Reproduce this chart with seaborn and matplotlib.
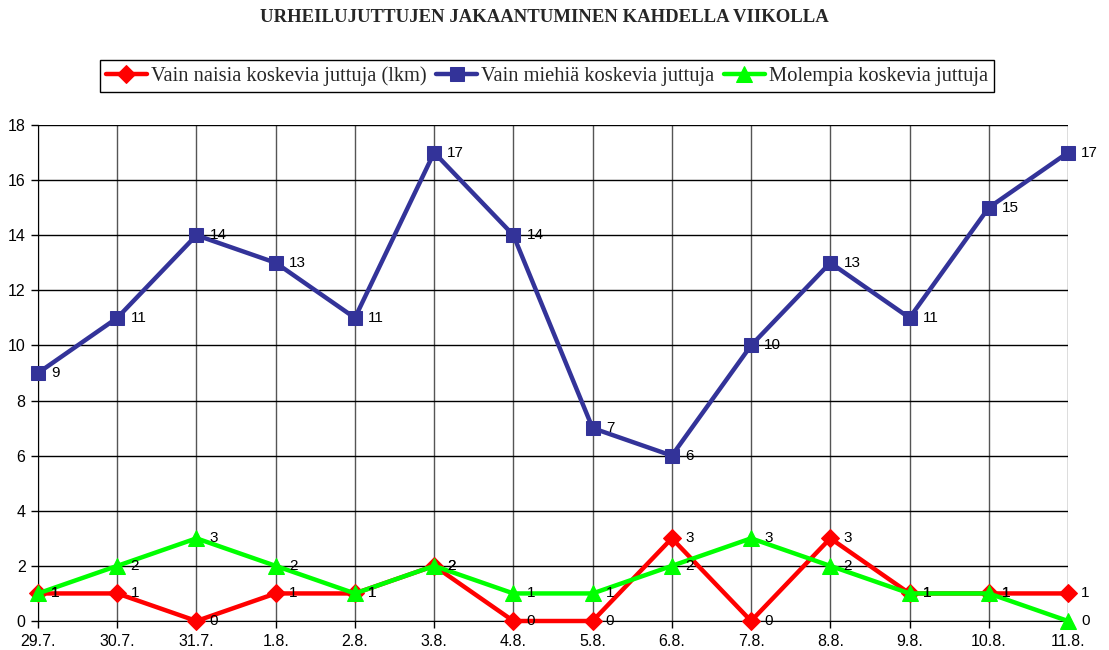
import matplotlib
matplotlib.use("Agg")
import matplotlib.pyplot as plt
import seaborn as sns
import pandas as pd
import numpy as np

dates = ["29.7.", "30.7.", "31.7.", "1.8.", "2.8.", "3.8.", "4.8.", "5.8.",
         "6.8.", "7.8.", "8.8.", "9.8.", "10.8.", "11.8."]
naiset = [1, 1, 0, 1, 1, 2, 0, 0, 3, 0, 3, 1, 1, 1]
miehet = [9, 11, 14, 13, 11, 17, 14, 7, 6, 10, 13, 11, 15, 17]
molemmat = [1, 2, 3, 2, 1, 2, 1, 1, 2, 3, 2, 1, 1, 0]

series_names = ["Vain naisia koskevia juttuja (lkm)",
                "Vain miehiä koskevia juttuja",
                "Molempia koskevia juttuja"]
series_vals = [naiset, miehet, molemmat]
colors = ["#FF0000", "#333399", "#00FF00"]
markers = ["D", "s", "^"]
msizes = [9, 9.5, 11]

sns.set_style("white")
plt.rcParams["font.family"] = ["Liberation Sans", "DejaVu Sans"]

fig = plt.figure(figsize=(11.09, 6.5), dpi=100)
ax = fig.add_axes([38/1109, 1-621/650, (1068-38)/1109, (621-125)/650])

x = np.arange(len(dates))
for name, vals, c, m, ms in zip(series_names, series_vals, colors, markers, msizes):
    df = pd.DataFrame({"x": x, "y": vals})
    sns.lineplot(data=df, x="x", y="y", ax=ax, color=c, lw=3.2, marker=m,
                 markersize=ms, markeredgecolor=c, label=name, zorder=3,
                 clip_on=False)
    for xi, yi in zip(x, vals):
        ax.annotate(str(yi), (xi, yi), xytext=(9.5, 0), textcoords="offset points",
                    ha="left", va="center", fontsize=11, color="black", zorder=5,
                    annotation_clip=False)

ax.set_xlim(0, len(dates) - 1)
ax.set_ylim(0, 18)
ax.set_yticks(range(0, 19, 2))
ax.set_xticks(x)
ax.set_xticklabels(dates)
ax.set_xlabel("")
ax.set_ylabel("")
ax.grid(True, axis="y", color="black", lw=1)
ax.grid(True, axis="x", color="#555555", lw=1)
for s in ax.spines.values():
    s.set_visible(False)
ax.spines["left"].set_visible(True)
ax.spines["left"].set_color("black")
ax.spines["bottom"].set_visible(True)
ax.spines["bottom"].set_color("black")
ax.tick_params(axis="both", which="both", direction="out", length=5, width=1,
               color="black", labelsize=11.5, labelcolor="black",
               bottom=True, left=True)
ax.tick_params(axis="x", pad=4)
ax.tick_params(axis="y", pad=4)

ax.legend_.remove()
h, l = ax.get_legend_handles_labels()
leg = fig.legend(h, l, loc="center", bbox_to_anchor=(547/1109, 1-76/650), ncol=3,
                 frameon=True, fancybox=False, edgecolor="black", framealpha=1,
                 prop={"family": "Liberation Serif", "size": 14.8},
                 handlelength=2.0, handletextpad=0.2, columnspacing=0.45,
                 borderpad=0.3, borderaxespad=0)
leg.get_frame().set_linewidth(1)

fig.text(544/1109, 1-18/650, "URHEILUJUTTUJEN JAKAANTUMINEN KAHDELLA VIIKOLLA",
         ha="center", va="center", fontsize=13.5, fontweight="bold",
         family="Liberation Serif")

fig.savefig("out.png", dpi=100)
